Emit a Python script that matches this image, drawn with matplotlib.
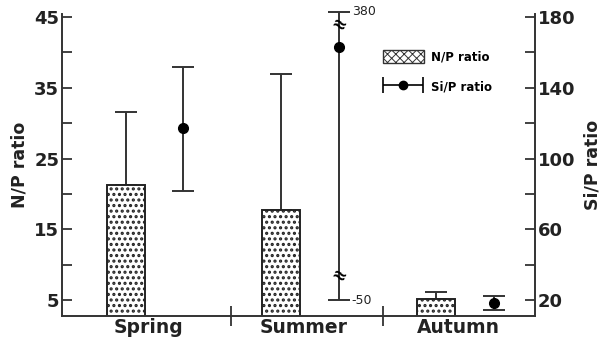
import numpy as np
import matplotlib
matplotlib.use("Agg")
import matplotlib.pyplot as plt
from matplotlib.patches import Patch
from matplotlib.container import ErrorbarContainer
from matplotlib.legend_handler import HandlerErrorbar

plt.rcParams['font.family'] = ['DejaVu Sans']
plt.rcParams['hatch.linewidth'] = 1.5

# data
seasons = ["Spring", "Summer", "Autumn"]
np_mean = [21.3, 17.7, 5.1]          # N/P ratio (left axis)
np_upper = [31.6, 37.0, 6.1]         # top of the N/P error bar
sip_mean = [117.5, 163.0, 18.5]      # Si/P ratio (right axis)
sip_low = [81.5, -50.0, 14.5]
sip_high = [152.0, 380.0, 22.5]

# where the broken (out of range) Summer error bar is cut off
cut_low, cut_high = 20.0, 183.0

fig = plt.figure(figsize=(6.13, 3.44), dpi=100)
ax = fig.add_axes([0.101, 0.081, 0.772, 0.878])
ax2 = ax.twinx()

x = np.arange(len(seasons))
bar_off, pt_off = -0.18, 0.19

# N/P bars, upper error only
np_mean_a = np.array(np_mean)
ax.bar(x + bar_off, np_mean_a, width=0.245, bottom=0, color='white',
       edgecolor='#222222', hatch='...', linewidth=1.4, zorder=2)
ax.errorbar(x + bar_off, np_mean_a,
            yerr=[np.zeros(3), np.array(np_upper) - np_mean_a],
            fmt='none', ecolor='#333333', elinewidth=1.4, capsize=8,
            capthick=1.4, zorder=1)

# Si/P points with error bars (summer bar is broken)
lo = np.array(sip_low)
hi = np.array(sip_high)
lo_d = np.where(lo < 0, cut_low, lo)
hi_d = np.where(hi > cut_high, cut_high, hi)
m = np.array(sip_mean)
eb = ax2.errorbar(x + pt_off, m, yerr=[m - lo_d, hi_d - m], fmt='o',
                  color='black', ecolor='#333333', markersize=7,
                  elinewidth=1.4, capsize=8, capthick=1.4)
for line in eb[1] + eb[2]:
    line.set_clip_on(False)

for i in range(len(seasons)):
    if hi[i] > cut_high:
        ax2.text(x[i] + pt_off + 0.085, hi_d[i], f"{hi[i]:.0f}", ha='left',
                 va='center', fontsize=9, color='#222222')
        ax2.text(x[i] + pt_off, hi_d[i] - 7.5, "≈", ha='center', va='center',
                 fontsize=13, fontweight='bold', rotation=-25)
    if lo[i] < 0:
        ax2.text(x[i] + pt_off + 0.085, lo_d[i], f"{lo[i]:.0f}", ha='left',
                 va='center', fontsize=9, color='#222222')
        ax2.text(x[i] + pt_off, lo_d[i] + 13.5, "≈", ha='center', va='center',
                 fontsize=13, fontweight='bold', rotation=-25)

# axes limits: right axis is 4x left axis
ylo, yhi = 2.75, 45.4
ax.set_ylim(ylo, yhi)
ax2.set_ylim(ylo * 4, yhi * 4)
ax.set_xlim(-0.594, 2.458)

ax.set_yticks([5, 15, 25, 35, 45])
ax.set_yticks([10, 20, 30, 40], minor=True)
ax2.set_yticks([20, 60, 100, 140, 180])
ax2.set_yticks([40, 80, 120, 160], minor=True)

for a in (ax, ax2):
    a.spines['top'].set_visible(False)
    for s in a.spines.values():
        s.set_linewidth(1.4)
        s.set_color('#333333')
    a.tick_params(axis='y', which='both', direction='in', length=7,
                  width=1.3, color='#333333', labelsize=13, pad=2)
ax.spines['right'].set_visible(False)
ax2.spines['left'].set_visible(False)
ax2.spines['bottom'].set_visible(False)

for lab in ax.get_yticklabels() + ax2.get_yticklabels():
    lab.set_fontweight('bold')
    lab.set_color('#222222')

ax.set_xticks(x - 0.035, seasons)
ax.set_xticks([0.497, 1.477], minor=True)
ax.tick_params(axis='x', which='major', length=0, pad=1, labelsize=13.5)
ax.tick_params(axis='x', which='minor', direction='inout', length=14,
               width=1.3, color='#333333')
for lab in ax.get_xticklabels():
    lab.set_fontweight('bold')
    lab.set_color('#222222')

ax.set_ylabel("N/P ratio", fontsize=12.5, fontweight='bold', labelpad=4,
              color='#222222')
ax2.set_ylabel("Si/P ratio", fontsize=12.5, fontweight='bold', rotation=90,
               labelpad=6, color='#222222')

# legend
h_np = Patch(facecolor='white', edgecolor='#333333', hatch='xxxx', linewidth=1)
dummy = ax2.errorbar([np.nan], [np.nan], xerr=[1], fmt='o', color='black',
                     markersize=6, elinewidth=1.2, capsize=6, capthick=1.2)
with plt.rc_context({'hatch.linewidth': 0.7}):
    leg = ax2.legend([h_np, dummy], ["N/P ratio", "Si/P ratio"],
                     loc='upper left', bbox_to_anchor=(0.655, 0.915),
                     frameon=False, handlelength=3.5, handleheight=1.25,
                     labelspacing=1.4, handletextpad=0.6,
                     prop={'size': 8.5, 'weight': 'bold'},
                     handler_map={ErrorbarContainer: HandlerErrorbar(xerr_size=1.7)})

fig.savefig("out.png", dpi=100)
